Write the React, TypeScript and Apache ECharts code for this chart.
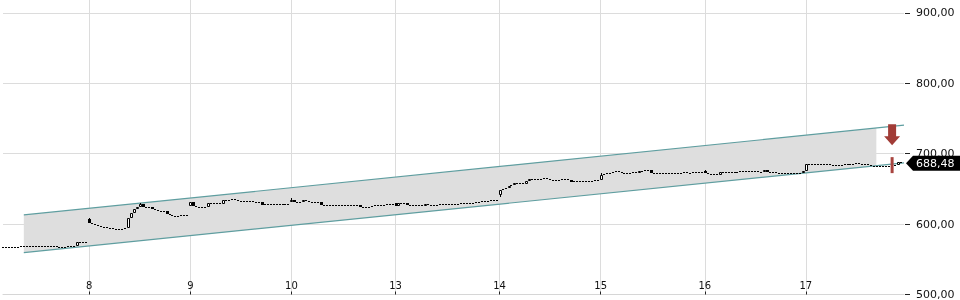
import React, { useEffect, useRef } from "react";
import * as echarts from "echarts";

// Trading days shown on the x axis (day 7 is only partly visible)
const days = ["7", "8", "9", "10", "13", "14", "15", "16", "17"];
const firstSlot = [5, 0, 0, 0, 0, 0, 0, 0, 0];
const dayOpens = [567.0, 607.0, 626.0, 632.0, 630.0, 641.0, 662.0, 676.0, 675.7];

const closes7 = [567.2, 567.5, 567.3, 567.4, 567.6, 567.5, 568.6, 568.2, 569.0, 568.8, 568.5, 568.9, 568.7, 569.3, 568.4, 568.9, 568.6, 568.3, 567.4, 567.0, 566.5, 567.2, 568.4, 568.0, 568.3, 574.8, 574.6, 574.5, 574.7];
const closes8 = [601.0, 600.2, 598.6, 597.5, 596.5, 595.5, 594.2, 593.8, 593.6, 593.5, 593.7, 593.6, 595.0, 609.0, 615.5, 621.6, 624.2, 628.0, 624.5, 625.0, 624.3, 621.0, 619.5, 619.2, 619.0, 618.0, 614.0, 612.5, 612.0, 611.8, 611.2, 613.2, 612.3, 612.0];
const closes9 = [631.0, 625.5, 625.0, 624.5, 624.8, 624.6, 629.5, 629.3, 629.0, 630.2, 629.0, 633.8, 634.2, 634.8, 635.4, 634.8, 633.5, 633.2, 632.8, 632.5, 632.6, 631.3, 631.0, 630.8, 627.5, 628.3, 628.5, 628.6, 628.4, 628.7, 628.5, 628.6, 628.4, 628.8];
const closes10 = [634.5, 631.5, 631.0, 631.8, 634.5, 633.0, 632.0, 631.8, 631.5, 631.2, 627.8, 627.0, 626.6, 626.4, 626.8, 626.5, 626.6, 626.7, 627.0, 626.8, 627.0, 626.8, 626.9, 624.8, 624.5, 624.8, 625.0, 625.3, 626.8, 627.2, 627.0, 627.3, 628.0, 628.6, 628.4];
const closes13 = [625.5, 629.5, 629.0, 629.5, 627.2, 626.8, 626.6, 626.5, 626.8, 626.4, 628.0, 627.6, 627.8, 627.5, 627.8, 628.8, 629.0, 628.9, 629.1, 629.0, 629.2, 629.0, 629.3, 629.1, 629.8, 630.5, 630.6, 630.8, 631.5, 632.2, 632.8, 633.5, 633.8, 634.0, 634.2];
const closes14 = [648.0, 650.0, 652.0, 654.5, 656.0, 658.0, 657.5, 657.8, 657.6, 661.5, 664.0, 664.6, 664.8, 664.5, 664.7, 665.2, 664.0, 663.0, 663.2, 663.0, 662.5, 664.2, 664.0, 662.2, 660.2, 661.0, 661.5, 661.3, 661.6, 661.4, 661.7, 661.5, 662.0, 662.3];
const closes15 = [669.5, 670.8, 672.0, 672.5, 674.5, 674.8, 673.5, 673.0, 673.2, 672.8, 673.0, 673.4, 673.2, 675.5, 675.8, 677.0, 676.6, 673.2, 673.0, 672.8, 673.0, 672.7, 673.0, 671.2, 673.2, 673.0, 673.2, 673.0, 673.4, 672.0, 673.0, 673.4, 673.6, 673.5, 673.8];
const closes16 = [672.0, 671.5, 670.5, 670.8, 670.4, 673.5, 673.4, 673.2, 673.5, 673.3, 673.6, 673.4, 675.6, 675.2, 675.8, 676.0, 675.5, 674.8, 674.5, 674.6, 676.2, 674.2, 674.0, 673.5, 673.2, 673.0, 672.5, 673.0, 672.8, 672.5, 672.7, 673.0, 673.2, 675.0];
const closes17 = [685.0, 685.8, 686.0, 685.2, 685.5, 684.8, 685.2, 685.6, 684.5, 684.2, 683.8, 684.0, 683.5, 685.8, 686.0, 685.6, 685.8, 686.2, 685.9, 685.5, 685.2, 683.5, 682.6, 683.0, 683.2, 682.8, 683.0, 682.9, 683.1, 683.0, 683.3, 687.8, 688.48];
const dayCloses = [closes7, closes8, closes9, closes10, closes13, closes14, closes15, closes16, closes17];

// Visible wicks [candle index, price]
const wickHighs = [[29, 608.5], [46, 629.5], [63, 632.0], [97, 636.5], [201, 672.0], [236, 676.5]];
const wickLows = [[167, 639.0]];

// Price axis
const yTicks = [500, 600, 700, 800, 900];
const yMin = 500;
const yMax = 918.4;
const lastPrice = 688.48;

// Trend channel (candle index, prices)
const channelStart = 7;
const channelEnd = 303;
const fillEnd = 293.7;
const upperLine = [613.0, 740.5];
const lowerLine = [559.5, 687.0];

// Signal markers
const signalIndex = 299;
const arrowPrice = 726.9;
const barPrice = 683.8;

const FONT = "DejaVu Sans";
const fmtPrice = (v: number) => v.toFixed(2).replace(".", ",");

function buildData() {
  const categories: string[] = [];
  const candles: number[][] = []; // [index, open, close, low, high]
  let prev = 0;
  dayCloses.forEach((arr, d) => {
    arr.forEach((c, k) => {
      const o = k === 0 ? dayOpens[d] : prev;
      const i = candles.length;
      categories.push(`${days[d]}|${firstSlot[d] + k}`);
      candles.push([i, o, c, Math.min(o, c), Math.max(o, c)]);
      prev = c;
    });
  });
  wickHighs.forEach(([i, v]) => { candles[i][4] = Math.max(candles[i][4], v); });
  wickLows.forEach(([i, v]) => { candles[i][3] = Math.min(candles[i][3], v); });
  categories.push("");
  return { categories, candles };
}

export default function App() {
  const ref = useRef<HTMLDivElement>(null);
  useEffect(() => {
    if (!ref.current) return;
    const chart = echarts.init(ref.current, undefined, { renderer: "svg" });
    const { categories, candles } = buildData();
    const isDayStart = (_i: number, v: string) => typeof v === "string" && v.endsWith("|0");

    const renderCandle = (_p: any, api: any) => {
      const idx = api.value(0);
      const o = api.value(1);
      const c = api.value(2);
      const lo = api.value(3);
      const hi = api.value(4);
      const po = api.coord([idx, o]);
      const pc = api.coord([idx, c]);
      const yl = Math.round(api.coord([idx, lo])[1]);
      const yh = Math.round(api.coord([idx, hi])[1]);
      const x = Math.round(po[0]);
      const top = Math.round(Math.min(po[1], pc[1]));
      const bot = Math.round(Math.max(po[1], pc[1]));
      const children: any[] = [];
      if (yl - yh > bot - top) {
        children.push({
          type: "line",
          shape: { x1: x + 0.5, y1: yh, x2: x + 0.5, y2: yl },
          style: { stroke: "#000", lineWidth: 1 },
        });
      }
      if (bot - top < 2) {
        children.push({ type: "rect", shape: { x: x - 1, y: top, width: 2, height: 1 }, style: { fill: "#000" } });
      } else if (c > o) {
        children.push({
          type: "rect",
          shape: { x: x - 0.5, y: top + 0.5, width: 2, height: bot - top - 1 },
          style: { fill: "#fff", stroke: "#000", lineWidth: 1 },
        });
      } else {
        children.push({ type: "rect", shape: { x: x - 1, y: top, width: 3, height: bot - top }, style: { fill: "#000" } });
      }
      return { type: "group", children };
    };

    const option: any = {
      animation: false,
      grid: { left: 0, right: 56, top: 0, bottom: 4, containLabel: false },
      xAxis: {
        type: "category",
        data: categories,
        boundaryGap: false,
        axisLine: { show: true, lineStyle: { color: "#d6d6d6", width: 1 } },
        axisTick: { show: true, inside: true, length: 3, interval: isDayStart, lineStyle: { color: "#222" } },
        axisLabel: {
          inside: true,
          margin: 4,
          interval: 0,
          color: "#111",
          fontFamily: FONT,
          fontSize: 10,
          formatter: (v: string) => {
            const [d, k] = v.split("|");
            return k === "0" ? d : "";
          },
        },
        splitLine: { show: true, interval: isDayStart, lineStyle: { color: "#dcdcdc", width: 1 } },
      },
      yAxis: {
        type: "value",
        position: "right",
        min: yMin,
        max: yMax,
        interval: 100,
        offset: 1,
        axisLine: { show: false },
        axisTick: { show: true, length: 5, customValues: yTicks, lineStyle: { color: "#222" } },
        axisLabel: {
          customValues: yTicks,
          margin: 11,
          color: "#111",
          fontFamily: FONT,
          fontSize: 11,
          formatter: (v: number) => fmtPrice(v),
        },
        splitLine: { show: true, lineStyle: { color: "#dcdcdc", width: 1 } },
      },
      series: [
        {
          type: "custom",
          z: 1,
          silent: true,
          data: [[channelStart, upperLine[0]]],
          renderItem: (_p: any, api: any) => {
            const u0 = api.coord([channelStart, upperLine[0]]);
            const u1 = api.coord([channelEnd, upperLine[1]]);
            const l0 = api.coord([channelStart, lowerLine[0]]);
            const l1 = api.coord([channelEnd, lowerLine[1]]);
            const t = (fillEnd - channelStart) / (channelEnd - channelStart);
            const uf = [u0[0] + (u1[0] - u0[0]) * t, u0[1] + (u1[1] - u0[1]) * t];
            const lf = [l0[0] + (l1[0] - l0[0]) * t, l0[1] + (l1[1] - l0[1]) * t];
            return {
              type: "group",
              children: [
                { type: "polygon", shape: { points: [u0, uf, lf, l0] }, style: { fill: "#dedede" } },
                { type: "line", shape: { x1: u0[0], y1: u0[1], x2: u1[0], y2: u1[1] }, style: { stroke: "#5f9ea0", lineWidth: 1.2 } },
                { type: "line", shape: { x1: l0[0], y1: l0[1], x2: l1[0], y2: l1[1] }, style: { stroke: "#5f9ea0", lineWidth: 1.2 } },
              ],
            };
          },
        },
        {
          type: "custom",
          z: 3,
          silent: true,
          data: candles,
          encode: { x: 0, y: [1, 2, 3, 4] },
          renderItem: renderCandle,
          markPoint: {
            silent: true,
            label: { show: false },
            data: [
              {
                coord: [signalIndex, arrowPrice],
                symbol: "path://M4,0 L12,0 L12,12 L16,12 L8,21 L0,12 L4,12 Z",
                symbolSize: [16, 21],
                symbolKeepAspect: false,
                itemStyle: { color: "#a13c37" },
              },
              {
                coord: [signalIndex, barPrice],
                symbol: "rect",
                symbolSize: [3, 16],
                itemStyle: { color: "#a8443f" },
              },
            ],
          },
        },
      ],
    };
    chart.setOption(option);

    const yPix = (chart.convertToPixel({ yAxisIndex: 0 }, lastPrice) as number) + 1.5;
    chart.setOption({
      graphic: [
        {
          type: "polygon",
          z: 100,
          shape: {
            points: [
              [906, yPix],
              [913, yPix - 7.5],
              [960, yPix - 7.5],
              [960, yPix + 7.5],
              [913, yPix + 7.5],
            ],
          },
          style: { fill: "#000" },
        },
        {
          type: "text",
          z: 101,
          x: 916,
          y: yPix,
          style: {
            text: fmtPrice(lastPrice),
            fill: "#fff",
            fontFamily: FONT,
            fontSize: 11,
            verticalAlign: "middle",
            align: "left",
          },
        },
      ],
    });

    return () => chart.dispose();
  }, []);

  return (
    <div
      ref={ref}
      style={{ position: "fixed", left: 0, top: 0, width: 960, height: 300 }}
    />
  );
}
